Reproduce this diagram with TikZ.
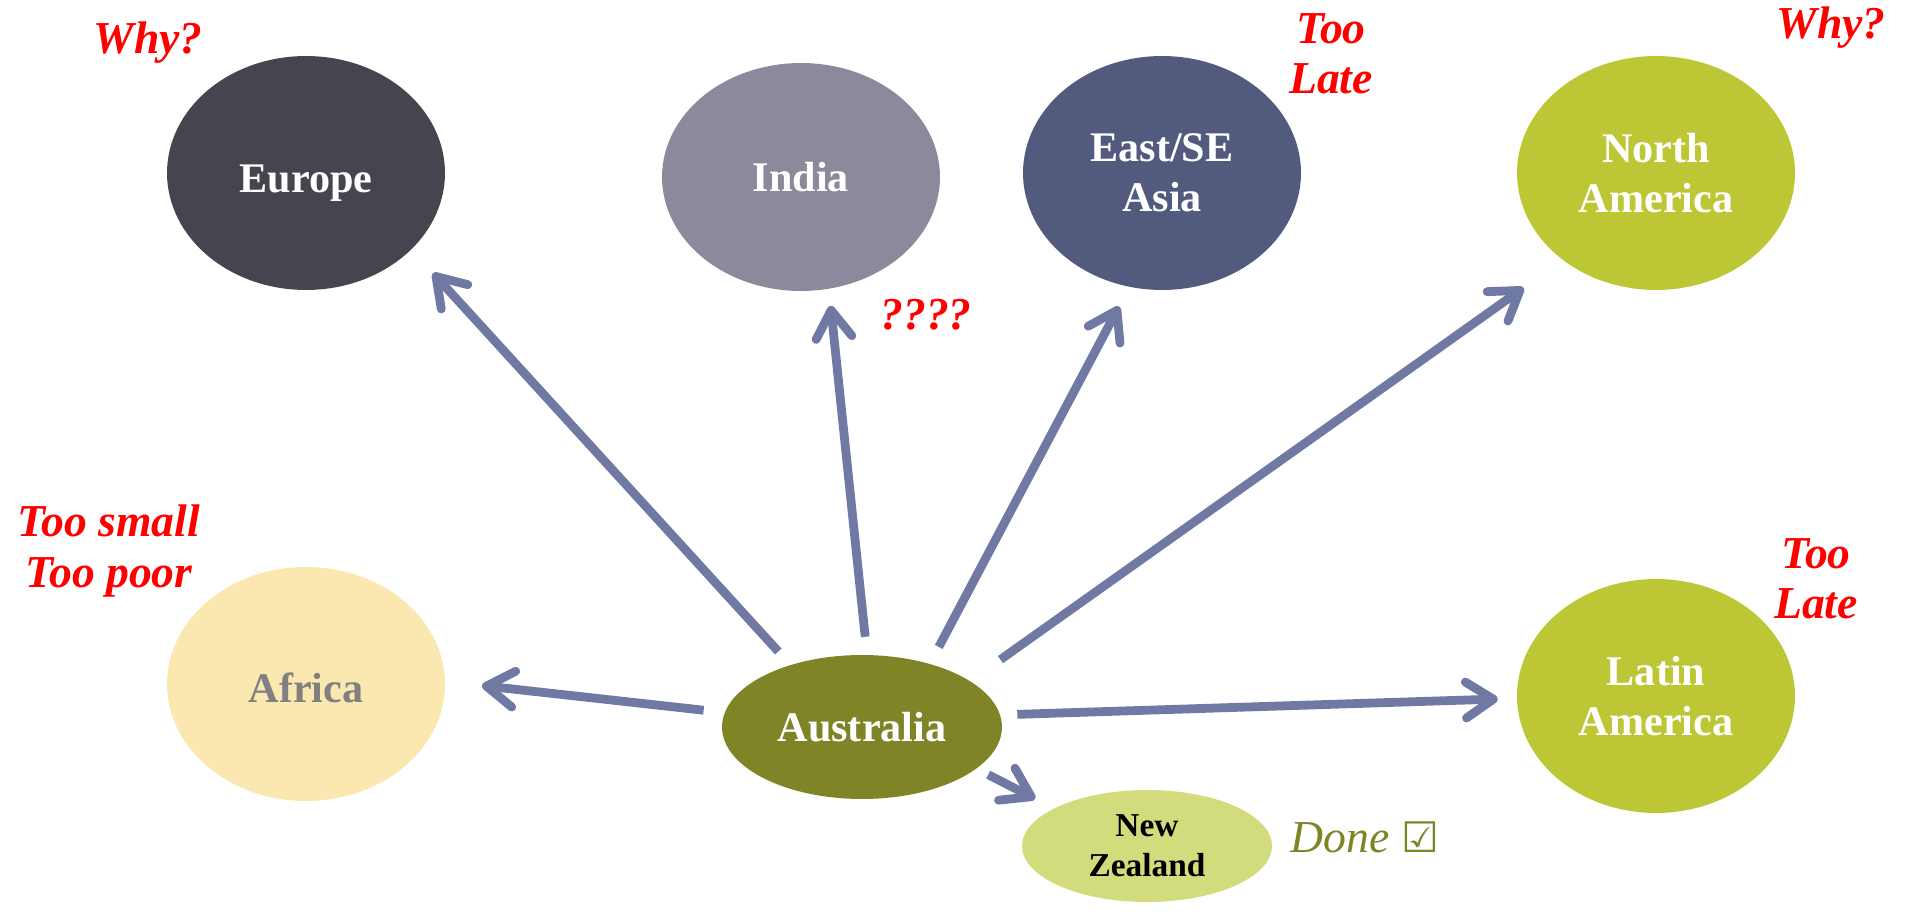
\documentclass[tikz,border=0pt]{standalone}
\usepackage{fontspec}
\setmainfont{Liberation Serif}
\newfontfamily\symfont{DejaVu Sans}
\usetikzlibrary{shapes.geometric,arrows.meta}
\definecolor{eurcol}{HTML}{46454F}
\definecolor{indcol}{HTML}{8B8A9C}
\definecolor{eascol}{HTML}{525B7E}
\definecolor{amcol}{HTML}{BDC736}
\definecolor{afrcol}{HTML}{FAE8B0}
\definecolor{auscol}{HTML}{7F8526}
\definecolor{nzcol}{HTML}{D3DC7C}
\definecolor{linkcol}{HTML}{6F79A3}
\tikzset{
  region/.style={ellipse,inner sep=0pt,minimum width=5.56cm,minimum height=4.68cm,
    text=white,align=center,font=\fontsize{24}{28.5}\selectfont\bfseries},
  remark/.style={inner sep=0pt,align=center,text=red,
    font=\fontsize{26}{28.5}\selectfont\bfseries\itshape},
  link/.style={line width=5pt,linkcol,-{Straight Barb[length=0.55cm,width=0.72cm,round]}}
}
\begin{document}
\begin{tikzpicture}[x=0.02cm,y=-0.02cm]
  \useasboundingbox (0,0) rectangle (1914,915); %frame
  % regions
  \node[region,fill=eurcol,text height=0.8cm,text depth=0pt] (eur) at (306,173) {Europe};
  \node[region,fill=indcol,minimum height=4.56cm] (ind) at (801,177) {India};
  \node[region,fill=eascol] (eas) at (1162,173) {East/SE\\Asia};
  \node[region,fill=amcol] (nam) at (1656,173) {North\\America};
  \node[region,fill=afrcol,text=gray,text height=0.74cm,text depth=0pt] (afr) at (306,684) {Africa};
  \node[region,fill=amcol] (lam) at (1656,696) {Latin\\America};
  \node[region,fill=auscol,minimum width=5.6cm,minimum height=2.88cm] (aus) at (862,727) {Australia};
  \node[region,fill=nzcol,text=black,minimum width=5cm,minimum height=2.24cm,
    font=\fontsize{19}{23}\selectfont\bfseries] (nz) at (1147,846) {New\\Zealand};
  % remarks
  \node[remark] (whyeur) at (148,43) {Why?};
  \node[remark] (whyind) at (926,315) {????};
  \node[remark] (lateeas) at (1331,54) {Too\\Late};
  \node[remark] (whynam) at (1831,28) {Why?};
  \node[remark] (poorafr) at (109,551) {Too small\\Too poor};
  \node[remark] (latelam) at (1816,579) {Too\\Late};
  \node[remark,text=auscol,font=\fontsize{26}{28.5}\selectfont\itshape] (donenz) at (1365,837) {Done {\symfont\bfseries\fontsize{24}{28}\selectfont ☑}};
  % links from Australia
  \draw[link,shorten <=0.36cm,shorten >=0.64cm] (aus.139) -- (eur.-36); %Europe
  \draw[link,shorten <=0.36cm,shorten >=0.34cm] (aus.86) -- (ind.-76); %India
  \draw[link,shorten <=0.38cm,shorten >=0.44cm] (aus.43) -- (eas.-106); %Asia
  \draw[link,shorten <=0.74cm,shorten >=0.96cm] (aus.23) -- (nam.-137); %North America
  \draw[link,shorten <=0.42cm,shorten >=0.74cm] (aus.174) -- (afr.1); %Africa
  \draw[link,shorten <=0.34cm,shorten >=0.38cm] (aus.5.5) -- (lam.181); %Latin America
  \draw[link,shorten <=0.26cm,shorten >=0.42cm] (aus.-20) -- (nz.158); %New Zealand
\end{tikzpicture}
\end{document}
